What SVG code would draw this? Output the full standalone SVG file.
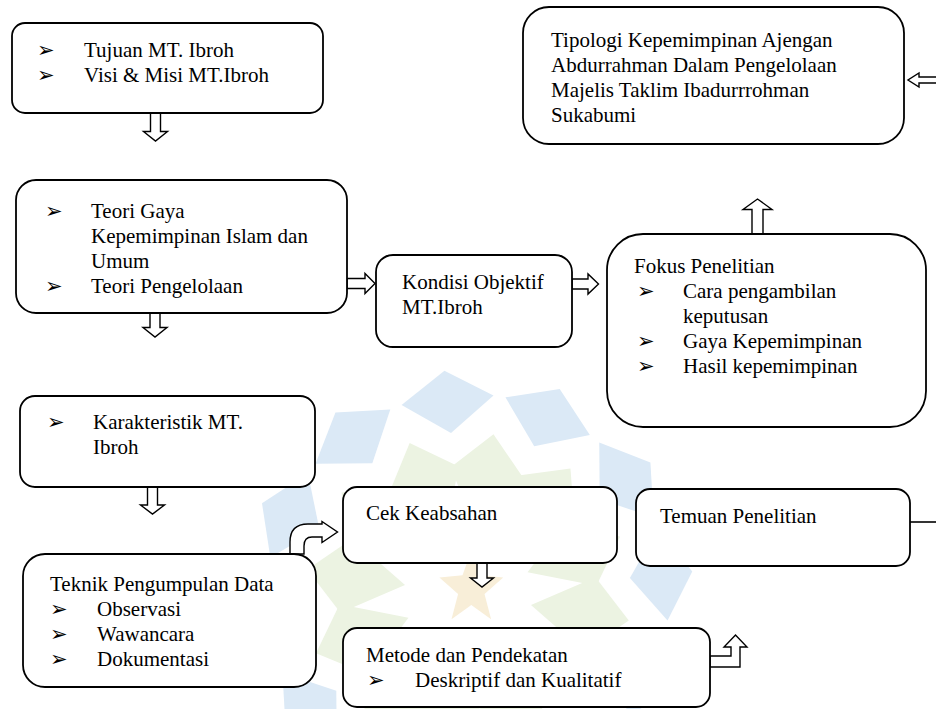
<svg xmlns="http://www.w3.org/2000/svg" xmlns:xlink="http://www.w3.org/1999/xlink" width="936" height="709" viewBox="0 0 936 709">
<defs>
<style>
.box{fill:#fff;stroke:#000;stroke-width:1.8}
.t{font-family:"Liberation Serif","Times New Roman",serif;font-size:21px;fill:#000}
.b{font-family:"DejaVu Sans",sans-serif;font-size:21px;fill:#000}
.arr{fill:#fff;stroke:#000;stroke-width:1.4;stroke-linejoin:miter}
.ln{fill:none;stroke:#000;stroke-width:1.6}
.wb{fill:#dbe9f6}
.wg{fill:#ecf3e2}
.ws{fill:#f8eed8}
</style>
<polygon id="kb" points="0,-205 42,-178 0,-148 -42,-178"/>
<polygon id="kg" points="0,-148 34,-112 0,-58 -34,-112"/>
</defs>
<rect width="936" height="709" fill="#fff"/>
<g id="watermark" transform="translate(468,595) scale(1.1)">
<g class="wb">
<use xlink:href="#kb" transform="rotate(-6)"/>
<use xlink:href="#kb" transform="rotate(24)"/>
<use xlink:href="#kb" transform="rotate(54)"/>
<use xlink:href="#kb" transform="rotate(84)"/>
<use xlink:href="#kb" transform="rotate(114)"/>
<use xlink:href="#kb" transform="rotate(144)"/>
<use xlink:href="#kb" transform="rotate(174)"/>
<use xlink:href="#kb" transform="rotate(204)"/>
<use xlink:href="#kb" transform="rotate(234)"/>
<use xlink:href="#kb" transform="rotate(264)"/>
<use xlink:href="#kb" transform="rotate(294)"/>
<use xlink:href="#kb" transform="rotate(324)"/>
</g>
<g class="wg">
<use xlink:href="#kg" transform="rotate(9)"/>
<use xlink:href="#kg" transform="rotate(39)"/>
<use xlink:href="#kg" transform="rotate(69)"/>
<use xlink:href="#kg" transform="rotate(99)"/>
<use xlink:href="#kg" transform="rotate(129)"/>
<use xlink:href="#kg" transform="rotate(159)"/>
<use xlink:href="#kg" transform="rotate(189)"/>
<use xlink:href="#kg" transform="rotate(219)"/>
<use xlink:href="#kg" transform="rotate(249)"/>
<use xlink:href="#kg" transform="rotate(279)"/>
<use xlink:href="#kg" transform="rotate(309)"/>
<use xlink:href="#kg" transform="rotate(339)"/>
</g>
<polygon class="ws" points="3,-40 11,-18 32,-16 15,-1 21,22 3,9 -15,22 -9,-1 -26,-16 -5,-18"/>
</g>
<g id="connectors">
<path class="arr" d="M150.5,113 H160.5 V131.5 H167.5 L155.5,141 L143.5,131.5 H150.5 Z"/>
<path class="arr" d="M150,313 H160 V327.5 H167 L155,337 L143,327.5 H150 Z"/>
<path class="arr" d="M147.5,487 H157.5 V505 H164.5 L152.5,514 L140.5,505 H147.5 Z"/>
<path class="arr" d="M477,563 H487 V578 H493.5 L482,587 L470.5,578 H477 Z"/>
<path class="arr" d="M347,278.5 H365 V273.5 L375,283.5 L365,293.5 V288.5 H347 Z"/>
<path class="arr" d="M572,279 H588 V274 L598.5,284 L588,294 V289 H572 Z"/>
<path class="arr" d="M752,234 V209.5 H743 L757.5,199 L772,209.5 H763 V234 Z"/>
<path class="arr" d="M937,77 H919 V73 L908,80 L919,87 V83 H937 Z"/>
<path class="arr" d="M290,554 L290,542 Q290,524 308,524 L322,524 L322,521.5 L337.5,532 L322,542.5 L322,537 L312,537 Q304,537 304,546 L304,554 Z"/>
<path class="arr" d="M710,656 H731 V647 H724 L735.5,635 L747,647 H740 V667 H710 Z"/>
<path class="ln" d="M910,522 H937"/>
</g>
<g id="tujuan">
<rect class="box" x="12" y="23" width="311" height="90" rx="13"/>
<text class="b" x="37" y="57">➢</text>
<text class="b" x="37" y="82">➢</text>
<text class="t" x="84" y="57">Tujuan MT. Ibroh</text>
<text class="t" x="84" y="82">Visi &amp; Misi MT.Ibroh</text>
</g>
<g id="tipologi">
<rect class="box" x="523" y="7" width="381" height="137" rx="26"/>
<text class="t" x="551" y="47">Tipologi Kepemimpinan Ajengan</text>
<text class="t" x="551" y="72">Abdurrahman Dalam Pengelolaan</text>
<text class="t" x="551" y="97">Majelis Taklim Ibadurrrohman</text>
<text class="t" x="551" y="122">Sukabumi</text>
</g>
<g id="teori">
<rect class="box" x="16" y="180" width="331" height="133" rx="20"/>
<text class="b" x="45" y="218">➢</text>
<text class="b" x="45" y="293">➢</text>
<text class="t" x="91" y="218">Teori Gaya</text>
<text class="t" x="91" y="243">Kepemimpinan Islam dan</text>
<text class="t" x="91" y="268">Umum</text>
<text class="t" x="91" y="293">Teori Pengelolaan</text>
</g>
<g id="kondisi">
<rect class="box" x="376" y="255" width="196" height="92" rx="17"/>
<text class="t" x="402" y="289">Kondisi Objektif</text>
<text class="t" x="402" y="314">MT.Ibroh</text>
</g>
<g id="fokus">
<rect class="box" x="607" y="234" width="319" height="193" rx="36"/>
<text class="t" x="634" y="273">Fokus Penelitian</text>
<text class="b" x="637" y="298">➢</text>
<text class="b" x="637" y="348">➢</text>
<text class="b" x="637" y="373">➢</text>
<text class="t" x="683" y="298">Cara pengambilan</text>
<text class="t" x="683" y="323">keputusan</text>
<text class="t" x="683" y="348">Gaya Kepemimpinan</text>
<text class="t" x="683" y="373">Hasil kepemimpinan</text>
</g>
<g id="karakteristik">
<rect class="box" x="20" y="396" width="295" height="91" rx="15"/>
<text class="b" x="47" y="429">➢</text>
<text class="t" x="93" y="429">Karakteristik MT.</text>
<text class="t" x="93" y="454">Ibroh</text>
</g>
<g id="teknik">
<rect class="box" x="23" y="554" width="293" height="133" rx="22"/>
<text class="t" x="50" y="591">Teknik Pengumpulan Data</text>
<text class="b" x="50" y="616">➢</text>
<text class="b" x="50" y="641">➢</text>
<text class="b" x="50" y="666">➢</text>
<text class="t" x="97" y="616">Observasi</text>
<text class="t" x="97" y="641">Wawancara</text>
<text class="t" x="97" y="666">Dokumentasi</text>
</g>
<g id="cek">
<rect class="box" x="343" y="487" width="274" height="76" rx="14"/>
<text class="t" x="366" y="520">Cek Keabsahan</text>
</g>
<g id="temuan">
<rect class="box" x="636" y="489" width="274" height="77" rx="14"/>
<text class="t" x="660" y="523">Temuan Penelitian</text>
</g>
<g id="metode">
<rect class="box" x="343" y="628" width="367" height="79" rx="14"/>
<text class="t" x="366" y="662">Metode dan Pendekatan</text>
<text class="b" x="367" y="687">➢</text>
<text class="t" x="415" y="687">Deskriptif dan Kualitatif</text>
</g>
</svg>
